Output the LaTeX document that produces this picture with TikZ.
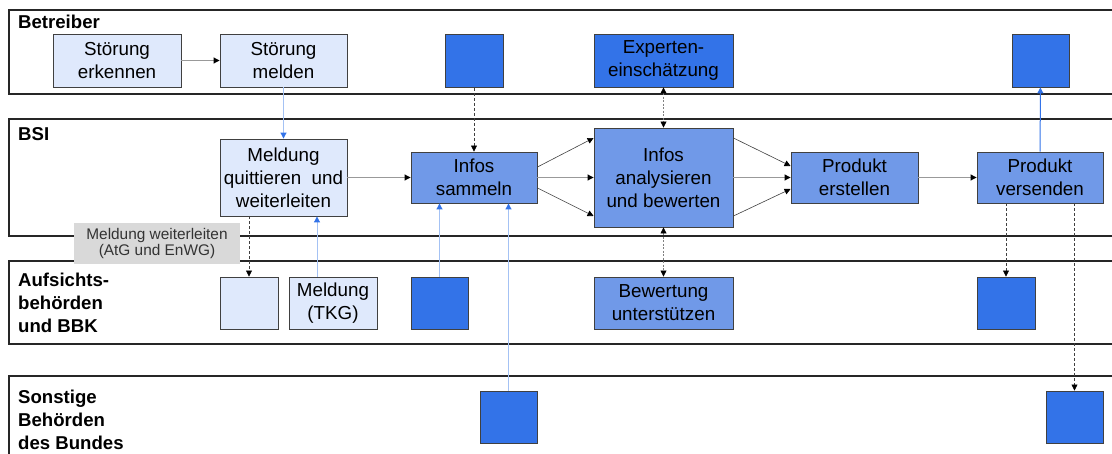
\documentclass[tikz,border=0pt]{standalone}
\usepackage{fontspec}
\setmainfont{Liberation Sans}
\usetikzlibrary{arrows.meta,positioning,calc}
\definecolor{PaleBlue}{HTML}{DFE9FC}
\definecolor{MidBlue}{HTML}{7099E8}
\definecolor{DeepBlue}{HTML}{3373E8}
\definecolor{LineBlue}{HTML}{A4C2F4}
\definecolor{NoteGray}{HTML}{D9D9D9}
\definecolor{EdgeGray}{HTML}{404040}
\definecolor{FlowGray}{HTML}{999999}
\tikzset{
  blk/.tip={Triangle[length=6pt,width=6pt,color=black]},
  blu/.tip={Triangle[length=6pt,width=6pt,color=DeepBlue]},
  task/.style={draw=EdgeGray, line width=0.9pt, align=center, inner sep=0pt,
    font=\fontsize{18.8}{23}\selectfont},
  pale/.style={task, fill=PaleBlue},
  mid/.style={task, fill=MidBlue},
  deep/.style={task, fill=DeepBlue},
  lane/.style={draw=black!85, line width=1.1pt},
  lanelabel/.style={font=\bfseries\fontsize{18.6}{23}\selectfont, align=left, inner sep=0pt},
  flow/.style={draw=FlowGray, line width=1pt, -{blk}},
  slant/.style={draw=EdgeGray, line width=0.6pt, -{blk}},
  feed/.style={draw=LineBlue, line width=1pt, -{blu}},
  hint/.style={draw=EdgeGray, dash pattern=on 3pt off 2pt, line width=0.7pt, -{blk}},
  twoway/.style={draw=gray, dash pattern=on 2pt off 1.5pt, line width=0.8pt, {blk}-{blk}}
}
\begin{document}
\begin{tikzpicture}[x=1pt,y=-1pt]
  \useasboundingbox (0,0) rectangle (1112,454);

  % lanes
  \draw[lane] (1116,10) -- (9,10) -- (9,94) -- (1116,94);
  \draw[lane] (1116,119) -- (9,119) -- (9,236) -- (1116,236);
  \draw[lane] (1116,261) -- (9,261) -- (9,344) -- (1116,344);
  \draw[lane] (1116,376) -- (9,376) -- (9,458);

  \node[lanelabel, anchor=base west] (betreiber) at (18,29) {Betreiber};
  \node[lanelabel, anchor=base west] (bsi) at (18,141) {BSI};
  \node[lanelabel, anchor=north west] (aufsicht) at (18,273) {Aufsichts-\\behörden\\und BBK};
  \node[lanelabel, anchor=north west] (sonstige) at (18,390) {Sonstige\\Behörden\\des Bundes};

  % note on the lane border
  \node[fill=NoteGray, text=black!80, align=center, inner sep=0pt, minimum width=166pt,
    minimum height=41pt, font=\fontsize{15.4}{16}\selectfont] (note) at (157,243.5)
    {Meldung weiterleiten\\(AtG und EnWG)};

  % Betreiber
  \node[pale, minimum width=128pt, minimum height=53pt] (erkennen) at (117,60.5) {Störung\\erkennen};
  \node[pale, minimum width=127pt, minimum height=53pt] (melden) at (283.5,60.5) {Störung\\melden};
  \node[deep, minimum width=58pt, minimum height=53pt] (bsq) at (474,61) {};
  \node[deep, minimum width=139pt, minimum height=53pt] (experten) at (663.5,60.5) {Experten-\\einschätzung};
  \node[deep, minimum width=57pt, minimum height=53pt] (bsqr) at (1040.5,60.5) {};

  % BSI
  \node[pale, minimum width=127pt, minimum height=77pt] (quitt) at (283.5,177.5)
    {Meldung\\quittieren\ \ und\\weiterleiten};
  \node[mid, minimum width=126pt, minimum height=51pt] (sammeln) at (474,177.5) {Infos\\sammeln};
  \node[mid, minimum width=139pt, minimum height=99pt] (analyse) at (663.5,177.5)
    {Infos\\analysieren\\und bewerten};
  \node[mid, minimum width=127pt, minimum height=51pt] (erstellen) at (854.5,177.5) {Produkt\\erstellen};
  \node[mid, minimum width=126pt, minimum height=51pt] (versenden) at (1040,177.5) {Produkt\\versenden};

  % Aufsichtsbehoerden
  \node[pale, minimum width=58pt, minimum height=52pt] (leer) at (249,303) {};
  \node[pale, minimum width=88pt, minimum height=52pt] (tkg) at (333,303) {Meldung\\(TKG)};
  \node[deep, minimum width=57pt, minimum height=52pt] (asq) at (439.5,303) {};
  \node[mid, minimum width=139pt, minimum height=52pt] (bewertung) at (663.5,303)
    {Bewertung\\unterstützen};
  \node[deep, minimum width=58pt, minimum height=52pt] (asqr) at (1006,303) {};

  % Sonstige
  \node[deep, minimum width=57pt, minimum height=52pt] (ssq) at (508.5,417) {};
  \node[deep, minimum width=57pt, minimum height=52pt] (ssqr) at (1074.5,417) {};

  \coordinate (tkgup) at ($(tkg.north)+(-16,0)$);

  % connectors
  \draw[flow] (erkennen) -- (melden);
  \draw[feed] (melden) -- (quitt);
  \draw[flow] (quitt) -- (sammeln);
  \draw[slant] ($(sammeln.east)+(0,-10.5)$) -- ($(analyse.west)+(0,-39.5)$);
  \draw[flow] (sammeln) -- (analyse);
  \draw[slant] ($(sammeln.east)+(0,10.5)$) -- ($(analyse.west)+(0,38.5)$);
  \draw[slant] ($(analyse.east)+(0,-39.5)$) -- ($(erstellen.west)+(0,-11.5)$);
  \draw[flow] (analyse) -- (erstellen);
  \draw[slant] ($(analyse.east)+(0,38.5)$) -- ($(erstellen.west)+(0,11.5)$);
  \draw[flow] (erstellen) -- (versenden);
  \draw[feed, draw=DeepBlue] (versenden) -- (bsqr);
  \draw[hint] (bsq) -- (sammeln);
  \draw[twoway] (experten) -- (analyse);
  \draw[twoway] (analyse) -- (bewertung);
  \draw[feed] (asq.north) -- (asq.north |- sammeln.south);
  \draw[feed] (ssq.north) -- (ssq.north |- sammeln.south);
  \draw[hint] (quitt.south -| leer.north) -- (leer.north);
  \draw[feed] (tkgup) -- (tkgup |- quitt.south);
  \draw[hint] (versenden.south -| asqr.north) -- (asqr.north);
  \draw[hint] (versenden.south -| ssqr.north) -- (ssqr.north);
\end{tikzpicture}
\end{document}
